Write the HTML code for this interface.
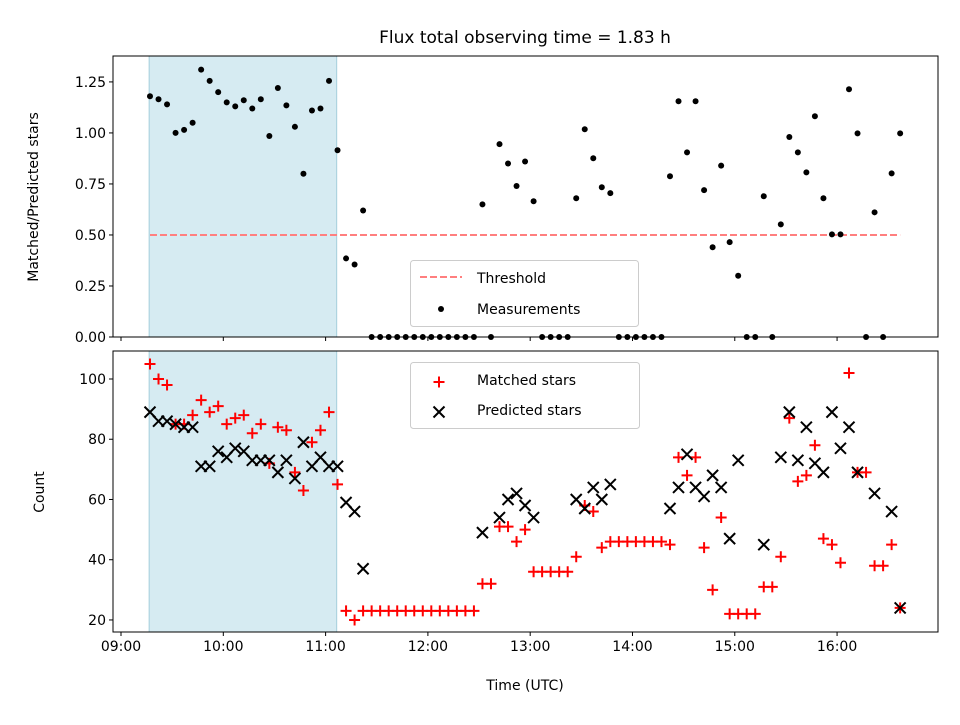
<!DOCTYPE html>
<html><head><meta charset="utf-8"><style>
body{margin:0;background:#fff;}
svg text{font-family:"DejaVu Sans","Liberation Sans",sans-serif;}
</style></head><body>
<svg id="chart" width="960" height="720" viewBox="0 0 960 720" xmlns="http://www.w3.org/2000/svg"></svg>
<script>
const startMinute = 557; // 09:17
const stepMinutes = 5;
const ratioValues = [1.18,1.165,1.14,1.0,1.015,1.05,1.31,1.255,1.2,1.15,1.13,1.16,1.12,1.165,0.985,1.22,1.135,1.03,0.8,1.11,1.12,1.255,0.915,0.385,0.355,0.62,0,0,0,0,0,0,0,0,0,0,0,0,0,0.65,0,0.945,0.85,0.74,0.86,0.665,0,0,0,0,0.68,1.018,0.876,0.734,0.705,0,0,0,0,0,0,0.788,1.155,0.905,1.155,0.72,0.44,0.84,0.465,0.3,0,0,0.69,0,0.552,0.98,0.905,0.807,1.082,0.68,0.503,0.503,1.214,0.998,0,0.611,0,0.802,0.998];
const matchedValues = [105,100,98,85,85,88,93,89,91,85,87,88,82,85,72,84,83,69,63,79,83,89,65,23,20,23,23,23,23,23,23,23,23,23,23,23,23,23,23,32,32,51,51,46,50,36,36,36,36,36,41,58,56,44,46,46,46,46,46,46,46,45,74,68,74,44,30,54,22,22,22,22,31,31,41,87,66,68,78,47,45,39,102,69,69,38,38,45,24];
const predictedValues = [89,86,86,85,84,84,71,71,76,74,77,76,73,73,73,69,73,67,79,71,74,71,71,59,56,37,null,null,null,null,null,null,null,null,null,null,null,null,null,49,null,54,60,62,58,54,null,null,null,null,60,57,64,60,65,null,null,null,null,null,null,57,64,75,64,61,68,64,47,73,null,null,45,null,74,89,73,84,72,69,89,77,84,69,null,62,null,56,24];
const thresholdValue = 0.5;
const shadeStartMinute = 556.5, shadeEndMinute = 666.5;
const xTickLabels = ["09:00","10:00","11:00","12:00","13:00","14:00","15:00","16:00"];
const xTickMinutes = [540,600,660,720,780,840,900,960];
const topTicks = [0,0.25,0.5,0.75,1.0,1.25];
const topTickLabels = ["0.00","0.25","0.50","0.75","1.00","1.25"];
const bottomTicks = [20,40,60,80,100];

const svg = document.getElementById('chart');
const NS = "http://www.w3.org/2000/svg";
function mk(tag, attrs, parent){const e=document.createElementNS(NS,tag);for(const k in attrs)e.setAttribute(k,attrs[k]);(parent||svg).appendChild(e);return e;}
const L=113,R=938;
const xMin=535.3,xMax=1019.2;
const X=m=>L+(m-xMin)/(xMax-xMin)*(R-L);
const topT=56,topB=337, topMax=1.377;
const Yt=v=>topB-(v/topMax)*(topB-topT);
const botT=351,botB=632, bMin=16.0,bMax=109.3;
const Yb=v=>botB-(v-bMin)/(bMax-bMin)*(botB-botT);
const tm=i=>startMinute+i*stepMinutes;

// title
let t=mk('text',{x:525,y:43,'font-size':'17','text-anchor':'middle',fill:'#000'});t.textContent='Flux total observing time = 1.83 h';



function panel(top,bot,name){
  const g=mk('g',{});
  
  
  const s=mk('rect',{x:X(shadeStartMinute),y:top,width:X(shadeEndMinute)-X(shadeStartMinute),height:bot-top,fill:'#add8e6','fill-opacity':0.5,stroke:'#a5cfdd','stroke-width':1},g);
  
  
  return g;
}
function frame(g,top,bot){mk('rect',{x:L,y:top,width:R-L,height:bot-top,fill:'none',stroke:'#000','stroke-width':1},g);}
function xticks(g,bot,labels){
  xTickMinutes.forEach((m,i)=>{
    mk('line',{x1:X(m),x2:X(m),y1:bot,y2:bot+4,stroke:'#000'},g);
    if(labels){const tx=mk('text',{x:X(m),y:bot+19,'font-size':'14','text-anchor':'middle'},g);tx.textContent=xTickLabels[i];
      
      }
  });
}

// TOP
const gt=panel(topT,topB,'ratio-panel');
const th=mk('line',{x1:X(tm(0)),x2:X(tm(ratioValues.length-1)),y1:Yt(thresholdValue),y2:Yt(thresholdValue),stroke:'#ff7f7f','stroke-width':2,'stroke-dasharray':'7,3'},gt);


ratioValues.forEach((v,i)=>{
  const c=mk('circle',{cx:X(tm(i)),cy:Yt(v),r:3,fill:'#000'},gt);
  
  
});
frame(gt,topT,topB);
xticks(gt,topB,false);
topTicks.forEach((v,i)=>{
  mk('line',{x1:L-4,x2:L,y1:Yt(v),y2:Yt(v),stroke:'#000'},gt);
  const tx=mk('text',{x:L-7,y:Yt(v)+5,'font-size':'14','text-anchor':'end'},gt);tx.textContent=topTickLabels[i];
  
  
});
let yl=mk('text',{x:38,y:197,'font-size':'14','text-anchor':'middle',transform:'rotate(-90 38 197)'});yl.textContent='Matched/Predicted stars';


// top legend
const lg1=mk('g',{});


mk('rect',{x:410.5,y:260.5,width:228,height:66,rx:3,fill:'#fff','fill-opacity':0.8,stroke:'#ccc'},lg1);
mk('line',{x1:420,x2:462,y1:277,y2:277,stroke:'#ff7f7f','stroke-width':2,'stroke-dasharray':'7,3'},lg1);
let lt=mk('text',{x:477,y:283,'font-size':'14'},lg1);lt.textContent='Threshold';
mk('circle',{cx:441,cy:309,r:3,fill:'#000'},lg1);
lt=mk('text',{x:477,y:314,'font-size':'14'},lg1);lt.textContent='Measurements';

// BOTTOM
const gb=panel(botT,botB,'count-panel');
function plus(x,y,g){const p=mk('path',{d:`M${x-5.5},${y}H${x+5.5}M${x},${y-5.5}V${y+5.5}`,stroke:'#ff0000','stroke-width':2},g);return p;}
function cross(x,y,g){const p=mk('path',{d:`M${x-5.5},${y-5.5}L${x+5.5},${y+5.5}M${x-5.5},${y+5.5}L${x+5.5},${y-5.5}`,stroke:'#000','stroke-width':2},g);return p;}
matchedValues.forEach((v,i)=>{
  const p=plus(X(tm(i)),Yb(v),gb);
  
  
});
predictedValues.forEach((v,i)=>{
  if(v===null)return;
  const p=cross(X(tm(i)),Yb(v),gb);
  
  
});
frame(gb,botT,botB);
xticks(gb,botB,true);
bottomTicks.forEach(v=>{
  mk('line',{x1:L-4,x2:L,y1:Yb(v),y2:Yb(v),stroke:'#000'},gb);
  const tx=mk('text',{x:L-7,y:Yb(v)+5,'font-size':'14','text-anchor':'end'},gb);tx.textContent=String(v);
  
  
});
yl=mk('text',{x:44,y:492,'font-size':'14','text-anchor':'middle',transform:'rotate(-90 44 492)'});yl.textContent='Count';


let xl=mk('text',{x:525,y:690,'font-size':'14','text-anchor':'middle'});xl.textContent='Time (UTC)';


const lg2=mk('g',{});


mk('rect',{x:410.5,y:362.5,width:229,height:66,rx:3,fill:'#fff','fill-opacity':0.8,stroke:'#ccc'},lg2);
plus(439,382,lg2);
lt=mk('text',{x:477,y:385,'font-size':'14'},lg2);lt.textContent='Matched stars';
cross(439,412,lg2);
lt=mk('text',{x:477,y:415,'font-size':'14'},lg2);lt.textContent='Predicted stars';
</script>
</body></html>
